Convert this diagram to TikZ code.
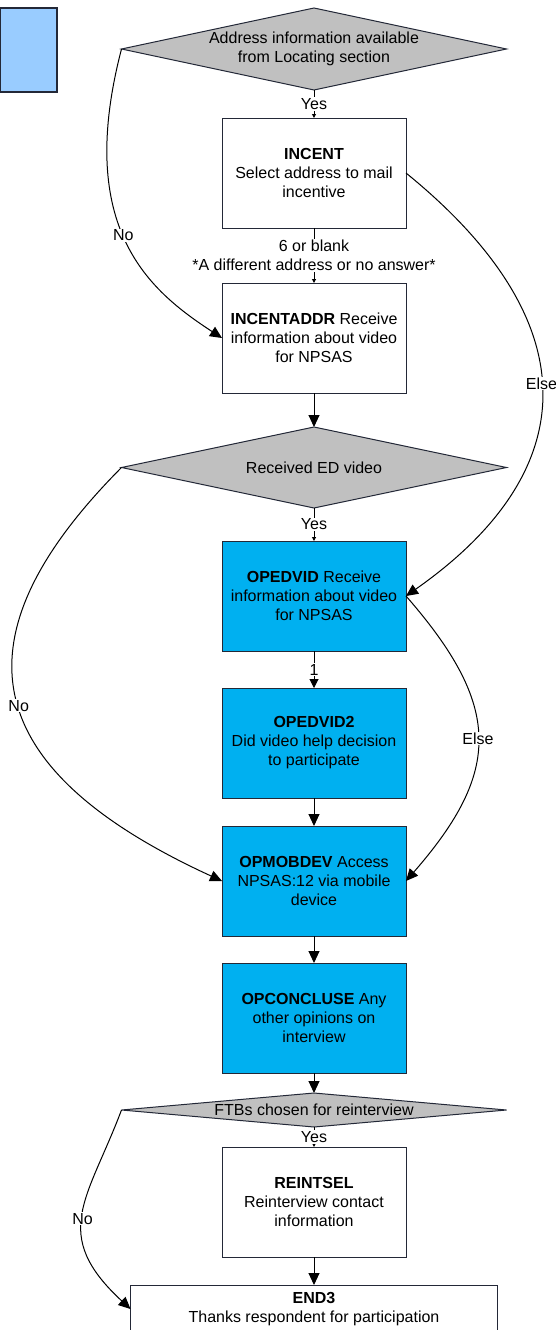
\documentclass[tikz,border=0pt]{standalone}
\usepackage{fontspec}
\setmainfont{Liberation Sans}
\usetikzlibrary{positioning, arrows.meta, shapes.geometric}
\definecolor{qblue}{RGB}{0,176,240}
\definecolor{qgray}{RGB}{192,192,192}
\definecolor{legendblue}{RGB}{153,204,255}
\definecolor{edgedark}{RGB}{35,40,55}

\begin{document}
\begin{tikzpicture}[
  x=1pt, y=-1pt,
  font=\fontsize{16}{19}\selectfont,
  box/.style={
    rectangle, draw=edgedark, line width=1pt,
    minimum width=184pt, minimum height=110pt, inner sep=0pt, outer sep=0pt,
    align=center, fill=white
  },
  boxblue/.style ={box, fill=qblue},
  decision/.style={
    diamond, draw=edgedark, line width=1pt, fill=qgray,
    inner sep=0pt, outer sep=0pt, align=center, minimum width=385pt
  },
  arrow/.style   ={-{Triangle[length=12pt,width=11pt]}, line width=1pt},
  arrowsm/.style ={-{Triangle[length=4pt,width=4pt]}, line width=1pt},
  arrowmd/.style ={-{Triangle[length=9pt,width=9pt]}, line width=1pt},
  lbl/.style     ={fill=white, inner sep=1pt, align=center}
]
  \useasboundingbox (0,0) rectangle (556,1330);

  \node[draw=edgedark, line width=1.5pt, fill=legendblue, minimum width=57pt,
        minimum height=84pt, inner sep=0pt] (legend) at (28.5,50) {};

  \node[decision, minimum height=82pt, aspect=4.7] (addrinfo) at (314,49)
    {Address information available\\from Locating section};
  \node[box,      below=28pt of addrinfo]   (incent)     {\textbf{INCENT}\\Select address to mail\\incentive};
  \node[box,      below=55pt of incent]     (incentaddr) {\textbf{INCENTADDR} Receive\\information about video\\for NPSAS};
  \node[decision, below=34pt of incentaddr, minimum height=81pt, aspect=4.7] (edvideo) {Received ED video};
  \node[boxblue,  below=33pt of edvideo]    (opedvid)    {\textbf{OPEDVID} Receive\\information about video\\for NPSAS};
  \node[boxblue,  below=37pt of opedvid]    (opedvid2)   {\textbf{OPEDVID2}\\Did video help decision\\to participate};
  \node[boxblue,  below=28pt of opedvid2]   (opmobdev)   {\textbf{OPMOBDEV} Access\\NPSAS:12 via mobile\\device};
  \node[boxblue,  below=27pt of opmobdev]   (opconcluse) {\textbf{OPCONCLUSE} Any\\other opinions on\\interview};
  \node[decision, below=20pt of opconcluse, minimum height=34pt, aspect=11.5] (ftbs) {FTBs chosen for reinterview};
  \node[box,      below=20pt of ftbs]       (reintsel)   {\textbf{REINTSEL}\\Reinterview contact\\information};
  \node[box,      below=28pt of reintsel, minimum width=367pt, minimum height=48pt] (endthree)
    {\textbf{END3}\\Thanks respondent for participation};

  \draw[arrowsm] (addrinfo) -- node[lbl] {Yes} (incent);
  \draw[arrowsm] (incent) -- node[lbl] {6 or blank\\*A different address or no answer*} (incentaddr);
  \draw[arrow]   (incentaddr) -- (edvideo);
  \draw[arrowsm] (edvideo) -- node[lbl] {Yes} (opedvid);
  \draw[arrowmd] (opedvid) -- node[lbl] {1} (opedvid2);
  \draw[arrow]   (opedvid2) -- (opmobdev);
  \draw[arrow]   (opmobdev) -- (opconcluse);
  \draw[arrow]   (opconcluse) -- (ftbs);
  \draw[arrowsm] (ftbs) -- node[lbl] {Yes} (reintsel);
  \draw[arrow]   (reintsel) -- (endthree);

  \draw[arrow] (addrinfo.west) .. controls +(-47,180) and +(-72,-47) ..
    node[lbl, pos=0.47] {No} (incentaddr.west);
  \draw[arrow] (incent.east) .. controls +(181,147) and +(181,-127) ..
    node[lbl, pos=0.48] {Else} (opedvid.east);
  \draw[arrow] (edvideo.west) .. controls +(-172,173) and +(-242,-111) ..
    node[lbl, pos=0.52] {No} (opmobdev.west);
  \draw[arrow] (opedvid.east) .. controls +(96,110) and +(96,-110) ..
    node[lbl, pos=0.5] {Else} (opmobdev.east);
  \draw[arrow] (ftbs.west) .. controls +(-34,90) and +(-81,-75) ..
    node[lbl, pos=0.52] {No} (endthree.west);
\end{tikzpicture}
\end{document}
